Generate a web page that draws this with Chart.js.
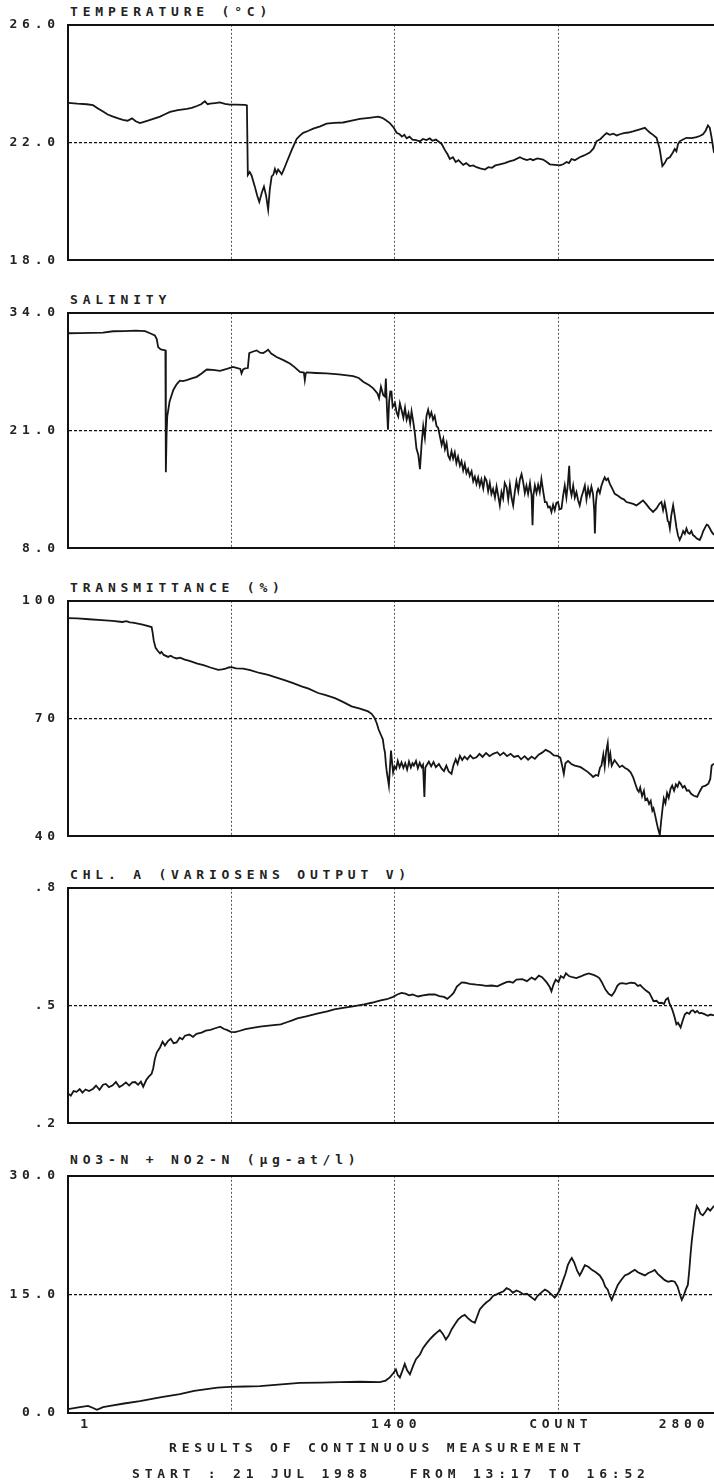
<!DOCTYPE html>
<html>
<head>
<meta charset="utf-8">
<script src="https://cdn.jsdelivr.net/npm/chart.js@4.4.1/dist/chart.umd.min.js"></script>
<style>
  html, body { margin: 0; padding: 0; background: #fff; }
  body { width: 714px; height: 1482px; position: relative; overflow: hidden;
         font-family: 'DejaVu Sans Mono', monospace; color: #222; }
  .panel { position: absolute; left: 0; width: 714px; }
  .txt { position: absolute; font-size: 13px; font-weight: bold; line-height: 13px; letter-spacing: 4.8px; white-space: pre; }
</style>
</head>
<body>

<div class="txt" style="left:70px; top:5px">TEMPERATURE (°C)</div>
<div class="txt" style="left:70px; top:293px">SALINITY</div>
<div class="txt" style="left:70px; top:581px">TRANSMITTANCE (%)</div>
<div class="txt" style="left:70px; top:868px">CHL. A (VARIOSENS OUTPUT V)</div>
<div class="txt" style="left:70px; top:1153px">NO3-N + NO2-N (µg-at/l)</div>

<div class="panel" style="top:9px; height:267px"><canvas id="tempChart"></canvas></div>
<div class="panel" style="top:297px; height:267px"><canvas id="salChart"></canvas></div>
<div class="panel" style="top:585px; height:267px"><canvas id="transChart"></canvas></div>
<div class="panel" style="top:872px; height:267px"><canvas id="chlChart"></canvas></div>
<div class="panel" style="top:1160px; height:283px"><canvas id="no3Chart"></canvas></div>

<div class="txt" style="left:169px; top:1441px">RESULTS OF CONTINUOUS MEASUREMENT</div>
<div class="txt" style="left:132px; top:1467px">START : 21 JUL 1988   FROM 13:17 TO 16:52</div>

<script>
// x axis: measurement count
const X_MAX = 2766;
const gridCounts = [700, 1400, 2100];
const countTickValues = [79, 1405, 2110, 2638];
const countTickLabels = ['1', '1400', 'COUNT', '2800'];

// y tick labels (bottom, middle, top)
const tempTicks = ['18.0', '22.0', '26.0'];
const salTicks = ['8.0', '21.0', '34.0'];
const transTicks = ['40', '70', '100'];
const chlTicks = ['.2', '.5', '.8'];
const no3Ticks = ['0.0', '15.0', '30.0'];

// [count, value]
const temperature = [[0,23.35],[40,23.32],[80,23.30],[107,23.27],[130,23.15],[150,23.05],[170,22.95],[193,22.88],[215,22.82],[235,22.77],[255,22.74],[274,22.82],[290,22.72],[308,22.66],[325,22.70],[342,22.74],[365,22.80],[394,22.88],[415,22.96],[437,23.04],[470,23.10],[509,23.14],[530,23.18],[552,23.24],[570,23.30],[586,23.40],[598,23.30],[608,23.32],[630,23.34],[650,23.36],[672,23.31],[693,23.29],[720,23.29],[758,23.28],[766,23.26],[770,20.9],[778,21.0],[786,20.88],[800,20.5],[810,20.2],[819,19.98],[830,20.3],[839,20.5],[848,20.2],[857,19.72],[864,20.4],[872,20.85],[879,20.9],[886,21.1],[893,20.95],[900,21.08],[908,21.0],[915,20.92],[925,21.1],[936,21.32],[958,21.75],[979,22.12],[995,22.25],[1007,22.33],[1030,22.40],[1050,22.47],[1080,22.55],[1107,22.64],[1140,22.67],[1178,22.68],[1215,22.74],[1250,22.80],[1290,22.84],[1328,22.88],[1345,22.84],[1357,22.78],[1378,22.66],[1395,22.5],[1407,22.33],[1420,22.28],[1430,22.20],[1440,22.26],[1450,22.14],[1462,22.2],[1475,22.10],[1490,22.08],[1507,22.04],[1520,22.12],[1535,22.08],[1549,22.14],[1560,22.06],[1575,22.10],[1585,22.04],[1600,21.95],[1614,21.74],[1625,21.6],[1635,21.44],[1648,21.5],[1660,21.34],[1672,21.40],[1692,21.24],[1705,21.30],[1720,21.20],[1735,21.22],[1749,21.16],[1765,21.12],[1785,21.08],[1800,21.16],[1815,21.14],[1830,21.22],[1849,21.26],[1870,21.30],[1890,21.36],[1910,21.40],[1935,21.50],[1950,21.44],[1965,21.40],[1980,21.44],[1991,21.40],[2010,21.46],[2034,21.42],[2050,21.34],[2063,21.26],[2085,21.24],[2106,21.22],[2120,21.26],[2135,21.34],[2145,21.30],[2156,21.44],[2170,21.40],[2191,21.50],[2210,21.56],[2234,21.66],[2250,21.80],[2263,22.04],[2280,22.12],[2295,22.24],[2306,22.32],[2320,22.26],[2335,22.30],[2350,22.24],[2363,22.28],[2380,22.32],[2400,22.34],[2419,22.38],[2445,22.44],[2470,22.50],[2480,22.42],[2491,22.34],[2505,22.26],[2520,22.16],[2533,21.8],[2545,21.20],[2555,21.3],[2565,21.45],[2577,21.50],[2590,21.66],[2598,21.78],[2605,21.7],[2612,21.95],[2619,22.04],[2633,22.10],[2648,22.16],[2670,22.15],[2691,22.18],[2705,22.22],[2719,22.28],[2730,22.40],[2740,22.58],[2748,22.50],[2755,22.20],[2766,21.65]];

const salinity = [[0,31.74],[50,31.76],[100,31.78],[150,31.82],[193,31.96],[240,31.98],[290,32.03],[330,31.98],[351,31.74],[372,31.49],[380,31.1],[386,30.21],[395,30.0],[401,29.92],[412,29.88],[417,29.85],[419,16.4],[422,20.5],[425,22.56],[435,24.2],[451,25.48],[465,26.1],[479,26.5],[492,26.45],[508,26.57],[530,26.75],[551,26.93],[572,27.3],[594,27.74],[620,27.7],[651,27.59],[680,27.8],[707,28.02],[725,27.9],[738,27.8],[743,27.3],[750,27.75],[758,27.85],[770,27.9],[776,29.55],[790,29.7],[808,29.85],[822,29.6],[836,29.55],[848,29.75],[857,29.92],[870,29.5],[893,29.12],[920,28.8],[950,28.4],[970,28.0],[993,27.48],[1010,27.4],[1014,26.57],[1018,27.3],[1022,27.41],[1060,27.35],[1107,27.3],[1160,27.2],[1221,27.0],[1245,26.8],[1264,26.39],[1290,26.0],[1307,25.66],[1325,25.1],[1332,24.57],[1340,25.84],[1350,24.9],[1357,24.75],[1361,26.75],[1366,23.29],[1370,21.1],[1375,24.2],[1380,25.3],[1385,25.29],[1390,23.6],[1400,24.03],[1407,23.0],[1414,22.56],[1421,24.0],[1428,23.29],[1436,22.4],[1443,23.5],[1450,22.2],[1458,22.9],[1465,21.8],[1471,23.11],[1478,22.0],[1485,20.75],[1492,19.0],[1500,18.3],[1507,16.74],[1514,19.5],[1521,21.47],[1528,20.2],[1535,22.6],[1542,23.29],[1549,22.5],[1556,23.0],[1563,22.2],[1570,22.6],[1578,21.5],[1585,21.29],[1592,20.4],[1600,19.4],[1607,20.1],[1614,18.93],[1621,19.6],[1628,18.2],[1635,17.83],[1642,18.7],[1649,17.9],[1656,18.56],[1663,17.4],[1670,18.1],[1678,17.1],[1685,17.6],[1692,16.6],[1699,17.3],[1706,16.3],[1713,16.74],[1720,16.0],[1728,16.5],[1735,15.4],[1742,15.9],[1749,15.1],[1756,15.8],[1763,14.9],[1770,15.6],[1778,14.6],[1785,15.8],[1792,15.46],[1799,14.3],[1806,15.2],[1813,14.0],[1820,14.55],[1828,13.6],[1835,14.8],[1842,13.8],[1849,12.73],[1856,14.2],[1863,13.5],[1870,15.2],[1878,14.74],[1885,13.4],[1892,15.0],[1899,13.6],[1906,12.73],[1913,14.2],[1920,15.4],[1928,14.3],[1935,15.6],[1942,16.19],[1949,15.3],[1956,14.1],[1963,14.92],[1970,14.0],[1978,15.2],[1985,13.8],[1989,10.55],[1993,13.9],[1999,14.92],[2006,14.1],[2013,15.0],[2020,14.2],[2027,15.65],[2034,14.4],[2042,13.1],[2049,13.1],[2056,12.5],[2063,12.6],[2070,12.0],[2077,12.8],[2084,12.2],[2091,13.0],[2098,13.1],[2105,12.3],[2113,12.37],[2120,13.8],[2127,14.92],[2134,13.6],[2140,15.0],[2146,17.1],[2150,14.6],[2156,13.83],[2163,14.9],[2170,13.6],[2177,14.19],[2184,13.3],[2191,12.73],[2198,13.6],[2206,14.3],[2213,14.92],[2220,13.4],[2227,14.6],[2234,13.83],[2241,14.8],[2248,14.0],[2253,12.2],[2256,9.64],[2260,12.9],[2265,14.2],[2270,14.55],[2277,14.1],[2284,14.9],[2291,15.4],[2298,15.83],[2305,15.5],[2312,15.7],[2320,15.1],[2330,14.6],[2341,14.01],[2355,13.8],[2370,13.5],[2380,13.4],[2391,13.1],[2405,13.0],[2420,12.9],[2434,12.73],[2448,13.0],[2462,13.28],[2475,12.9],[2490,12.4],[2505,12.0],[2520,12.4],[2532,12.9],[2541,13.1],[2548,12.2],[2555,13.0],[2562,12.0],[2568,11.0],[2572,10.9],[2577,10.18],[2583,11.6],[2591,12.73],[2598,11.6],[2605,10.3],[2612,9.4],[2619,8.91],[2626,9.3],[2634,9.9],[2641,9.6],[2648,10.18],[2655,9.7],[2662,9.6],[2669,9.9],[2676,9.45],[2684,9.3],[2691,9.1],[2698,9.0],[2705,8.91],[2712,9.3],[2720,9.9],[2728,10.3],[2735,10.6],[2740,10.55],[2748,10.2],[2756,9.8],[2766,9.45]];

const transmittance = [[0,95.6],[40,95.5],[90,95.3],[144,95.1],[190,94.9],[233,94.6],[250,94.8],[265,94.5],[278,94.45],[320,93.9],[358,93.3],[362,92.0],[367,89.9],[375,88.0],[385,87.2],[394,86.6],[400,87.0],[410,86.2],[429,85.7],[440,86.0],[450,85.6],[465,85.3],[480,85.5],[500,85.0],[520,84.7],[554,84.0],[580,83.6],[610,83.0],[643,82.4],[660,82.5],[675,82.7],[688,83.0],[700,83.1],[720,82.8],[750,82.7],[780,82.3],[820,81.6],[857,81.1],[900,80.3],[930,79.7],[964,79.0],[1000,78.2],[1030,77.6],[1071,76.5],[1100,76.0],[1143,75.2],[1175,74.3],[1214,73.1],[1250,72.5],[1285,71.8],[1300,71.2],[1312,70.2],[1322,68.8],[1330,67.2],[1340,65.8],[1348,64.7],[1353,62.5],[1357,61.4],[1361,58.5],[1365,56.3],[1370,54.5],[1374,52.9],[1378,57.0],[1383,61.8],[1388,58.5],[1392,56.3],[1398,57.8],[1405,57.2],[1412,59.2],[1420,57.6],[1428,58.8],[1436,57.4],[1444,58.6],[1452,57.0],[1460,59.0],[1468,57.5],[1475,58.6],[1481,58.0],[1490,59.2],[1498,57.3],[1506,58.7],[1514,57.6],[1520,58.2],[1526,50.0],[1530,57.5],[1535,58.0],[1545,59.0],[1555,57.8],[1565,58.9],[1575,57.6],[1588,58.4],[1600,57.2],[1610,56.6],[1620,58.0],[1630,56.5],[1642,55.9],[1650,58.0],[1660,59.6],[1668,58.4],[1678,60.5],[1688,59.4],[1698,60.3],[1710,59.6],[1722,60.6],[1735,59.8],[1749,60.1],[1762,61.0],[1775,60.2],[1790,61.2],[1805,60.4],[1820,61.0],[1838,61.4],[1850,60.6],[1865,61.3],[1880,60.4],[1895,61.0],[1910,60.2],[1927,60.5],[1940,59.6],[1955,60.4],[1970,59.5],[1985,60.3],[1999,59.7],[2015,60.8],[2030,61.3],[2045,62.0],[2052,61.8],[2065,61.4],[2080,60.6],[2097,60.5],[2108,60.0],[2115,58.2],[2123,55.9],[2130,58.6],[2141,59.2],[2155,58.4],[2170,58.0],[2183,57.8],[2195,57.6],[2210,57.0],[2225,56.4],[2240,55.6],[2248,55.1],[2260,55.6],[2270,55.4],[2278,57.5],[2284,58.0],[2292,60.8],[2298,57.8],[2304,61.5],[2311,63.7],[2316,59.0],[2322,61.0],[2328,58.0],[2340,59.4],[2350,58.6],[2362,57.6],[2373,58.0],[2385,57.4],[2397,57.0],[2409,56.3],[2420,55.0],[2430,53.2],[2438,51.8],[2444,51.3],[2450,52.4],[2458,50.2],[2466,51.6],[2472,49.2],[2480,49.6],[2488,48.2],[2495,49.0],[2502,46.5],[2507,47.1],[2514,45.3],[2520,43.6],[2526,42.0],[2534,40.3],[2540,44.0],[2546,47.2],[2551,49.6],[2558,48.4],[2565,51.0],[2572,49.8],[2580,52.1],[2587,52.9],[2595,51.6],[2603,53.2],[2610,52.6],[2617,53.8],[2623,53.4],[2632,52.4],[2640,52.8],[2650,51.6],[2658,51.7],[2668,50.8],[2680,50.3],[2694,50.0],[2705,51.4],[2716,52.6],[2730,52.9],[2742,53.4],[2750,54.6],[2756,58.0],[2766,58.5]];

const chlorophyll = [[0,0.276],[12,0.27],[24,0.282],[37,0.28],[50,0.287],[62,0.278],[75,0.286],[90,0.282],[108,0.288],[120,0.296],[135,0.285],[150,0.298],[162,0.30],[175,0.292],[190,0.296],[205,0.305],[220,0.292],[233,0.297],[248,0.304],[262,0.296],[275,0.304],[287,0.305],[300,0.298],[312,0.306],[322,0.293],[335,0.31],[345,0.318],[358,0.326],[365,0.34],[372,0.364],[380,0.38],[394,0.393],[405,0.408],[415,0.398],[429,0.41],[440,0.415],[452,0.404],[465,0.406],[478,0.418],[490,0.414],[501,0.423],[520,0.426],[535,0.42],[550,0.428],[572,0.431],[590,0.436],[610,0.438],[630,0.442],[652,0.446],[668,0.44],[680,0.438],[697,0.433],[715,0.432],[733,0.435],[760,0.44],[790,0.443],[822,0.446],[850,0.448],[880,0.45],[911,0.452],[940,0.458],[960,0.462],[982,0.467],[1020,0.472],[1050,0.477],[1071,0.48],[1110,0.485],[1140,0.49],[1178,0.494],[1220,0.498],[1268,0.503],[1300,0.507],[1339,0.513],[1365,0.516],[1392,0.522],[1410,0.528],[1428,0.532],[1445,0.53],[1460,0.526],[1475,0.528],[1499,0.523],[1520,0.526],[1545,0.528],[1571,0.528],[1590,0.524],[1610,0.522],[1624,0.517],[1640,0.525],[1651,0.532],[1665,0.548],[1686,0.559],[1700,0.558],[1720,0.555],[1749,0.553],[1770,0.552],[1790,0.55],[1815,0.551],[1838,0.549],[1860,0.555],[1880,0.56],[1892,0.561],[1905,0.558],[1920,0.566],[1945,0.567],[1965,0.562],[1985,0.571],[2000,0.566],[2016,0.576],[2030,0.572],[2045,0.562],[2052,0.557],[2062,0.548],[2070,0.536],[2078,0.552],[2088,0.566],[2100,0.56],[2110,0.575],[2122,0.57],[2132,0.582],[2145,0.575],[2160,0.572],[2177,0.57],[2195,0.574],[2210,0.578],[2230,0.582],[2250,0.578],[2265,0.574],[2275,0.57],[2285,0.56],[2295,0.548],[2302,0.54],[2315,0.53],[2328,0.525],[2340,0.535],[2352,0.55],[2362,0.556],[2373,0.557],[2390,0.555],[2410,0.558],[2427,0.557],[2440,0.55],[2450,0.552],[2462,0.545],[2475,0.538],[2489,0.532],[2498,0.522],[2507,0.511],[2520,0.512],[2530,0.506],[2542,0.507],[2552,0.504],[2560,0.515],[2569,0.519],[2575,0.506],[2580,0.5],[2587,0.49],[2595,0.475],[2605,0.452],[2612,0.456],[2623,0.444],[2632,0.462],[2641,0.477],[2650,0.482],[2660,0.479],[2668,0.486],[2676,0.488],[2685,0.482],[2694,0.486],[2703,0.48],[2712,0.481],[2725,0.478],[2740,0.474],[2752,0.477],[2766,0.475]];

const nitrate = [[0,0.5],[51,0.75],[86,0.9],[110,0.6],[124,0.4],[150,0.75],[180,0.9],[240,1.2],[308,1.5],[400,2.0],[479,2.4],[540,2.8],[586,3.0],[640,3.2],[693,3.3],[760,3.35],[822,3.4],[900,3.6],[993,3.8],[1080,3.85],[1164,3.9],[1250,3.95],[1335,3.9],[1360,4.1],[1378,4.5],[1392,5.0],[1404,5.5],[1412,4.8],[1421,4.5],[1430,5.2],[1442,6.2],[1452,5.4],[1464,4.9],[1478,6.0],[1490,6.8],[1507,7.4],[1520,8.2],[1535,8.8],[1549,9.3],[1565,9.8],[1580,10.2],[1592,10.5],[1605,10.0],[1618,9.3],[1630,9.8],[1643,10.6],[1656,11.2],[1670,11.8],[1685,12.2],[1699,12.4],[1712,12.0],[1728,11.6],[1742,11.4],[1752,12.2],[1763,13.1],[1778,13.6],[1792,14.0],[1806,14.3],[1820,14.8],[1835,15.0],[1849,15.2],[1865,15.4],[1878,15.8],[1892,15.6],[1905,15.2],[1920,15.5],[1935,15.3],[1950,15.0],[1965,15.1],[1977,14.8],[1990,14.5],[1999,14.3],[2010,14.8],[2025,15.2],[2042,15.6],[2055,15.4],[2070,15.0],[2084,14.6],[2095,15.0],[2106,15.6],[2120,16.8],[2130,17.6],[2140,18.7],[2150,19.3],[2157,19.6],[2168,19.0],[2180,18.0],[2191,17.4],[2200,17.9],[2213,18.7],[2228,18.5],[2243,18.1],[2260,17.8],[2277,17.4],[2290,16.8],[2300,16.0],[2311,15.6],[2320,14.8],[2328,14.3],[2340,15.2],[2354,16.2],[2368,16.8],[2384,17.4],[2400,17.6],[2415,17.9],[2427,18.1],[2440,17.8],[2455,17.6],[2470,17.4],[2485,17.7],[2500,17.9],[2512,18.1],[2525,17.6],[2540,17.2],[2555,16.8],[2570,16.6],[2585,16.7],[2598,16.6],[2610,16.0],[2620,15.0],[2628,14.3],[2636,14.8],[2645,15.6],[2654,16.2],[2660,18.0],[2666,20.2],[2671,21.8],[2680,24.0],[2686,25.4],[2692,26.2],[2700,25.8],[2708,25.2],[2718,25.0],[2728,25.4],[2739,25.9],[2750,25.6],[2758,25.9],[2766,26.2]];

// letter spaced plotter lettering for tick labels
const plotterText = {
  id: 'plotterText',
  beforeDraw(chart) { chart.ctx.letterSpacing = '4.8px'; }
};

const tickFont = { family: 'DejaVu Sans Mono', size: 13, weight: 'bold' };

function makePanel(id, points, yMin, yMax, yLabels, withCount) {
  const mid = (yMin + yMax) / 2;
  const isMid = ctx => ctx.tick && Math.abs(ctx.tick.value - mid) < 1e-9;

  const scales = {
    x: {
      type: 'linear',
      min: 0,
      max: X_MAX,
      weight: 0,
      afterBuildTicks: s => { s.ticks = gridCounts.map(v => ({ value: v })); },
      afterFit: s => { s.height = 0; s.paddingLeft = 0; s.paddingRight = 0; },
      ticks: { display: false },
      grid: { drawTicks: false, color: '#555', lineWidth: 1 },
      border: { display: true, color: '#111', width: 2, dash: [2, 2] }
    },
    y: {
      min: yMin,
      max: yMax,
      afterBuildTicks: s => { s.ticks = [yMin, mid, yMax].map(v => ({ value: v })); },
      afterFit: s => { s.width = 68; },
      ticks: {
        padding: 8,
        color: '#222',
        font: tickFont,
        callback: (v, i) => yLabels[i]
      },
      grid: {
        drawTicks: false,
        color: '#111',
        lineWidth: ctx => isMid(ctx) ? 1.3 : 2
      },
      border: {
        display: true,
        color: '#111',
        width: 2,
        dash: ctx => isMid(ctx) ? [3, 2] : []
      }
    }
  };

  if (withCount) {
    scales.xl = {
      type: 'linear',
      position: 'bottom',
      min: 0,
      max: X_MAX,
      weight: 1,
      afterBuildTicks: s => { s.ticks = countTickValues.map(v => ({ value: v })); },
      afterFit: s => { s.height = 30; s.paddingLeft = 0; s.paddingRight = 0; },
      ticks: {
        padding: 4,
        autoSkip: false,
        maxRotation: 0,
        color: '#222',
        font: tickFont,
        callback: (v, i) => countTickLabels[i]
      },
      grid: { display: false, drawTicks: false },
      border: { display: false }
    };
  }

  return new Chart(document.getElementById(id), {
    type: 'line',
    data: {
      datasets: [{
        data: points.map(p => ({ x: p[0], y: p[1] })),
        borderColor: '#161616',
        borderWidth: 1.8,
        pointRadius: 0,
        tension: 0,
        fill: false
      }]
    },
    options: {
      animation: false,
      responsive: true,
      maintainAspectRatio: false,
      layout: { padding: { top: 14, bottom: withCount ? 0 : 14, left: 0, right: 0 } },
      plugins: { legend: { display: false }, tooltip: { enabled: false } },
      scales: scales
    },
    plugins: [plotterText]
  });
}

makePanel('tempChart', temperature, 18, 26, tempTicks, false);
makePanel('salChart', salinity, 8, 34, salTicks, false);
makePanel('transChart', transmittance, 40, 100, transTicks, false);
makePanel('chlChart', chlorophyll, 0.2, 0.8, chlTicks, false);
makePanel('no3Chart', nitrate, 0, 30, no3Ticks, true);
</script>
</body>
</html>
